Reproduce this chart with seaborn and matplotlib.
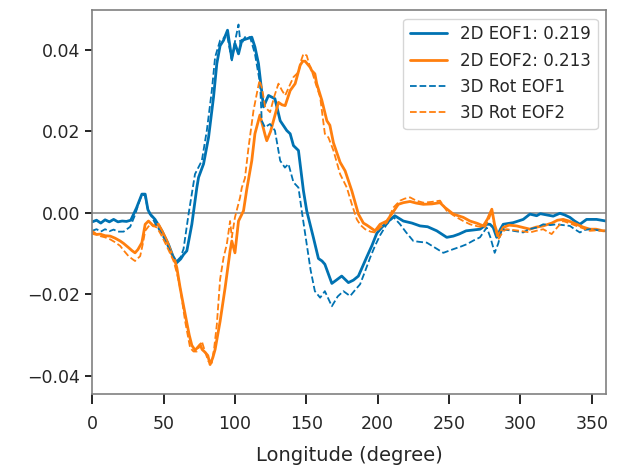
## Import packages
import pandas as pd
import matplotlib
matplotlib.use("Agg")
import matplotlib.pyplot as plt
import seaborn as sns


## Data
# 2D EOF1
lon_2d_eof1 = [0, 3, 6, 9, 12, 15, 18, 21, 24, 27, 31, 34.8, 37.1, 39, 40.6, 44, 48.8, 53.4,
               57, 59.3, 62, 64, 66.3, 69.8, 73.3, 74.5, 78, 81.5, 85, 87.3, 89.6, 92, 94.8,
               97.8, 100, 102.5, 104.8, 108.3, 111.8, 114, 116.5, 120, 123.5, 128, 131.7,
               136.3, 138.7, 141, 144.5, 148, 150.3, 155, 158.5, 161, 163, 167.9, 171, 174.8,
               179.5, 183, 186.5, 192.4, 196, 199.4, 203, 206.4, 212, 218, 224, 229.7, 235,
               241.4, 248.4, 253, 257, 262, 267, 271.7, 276.4, 278.7, 281, 283.4, 286, 288,
               295, 302, 306.7, 311.4, 314, 318.4, 323, 327.7, 331, 334.7, 338, 341.7, 346.4,
               353.4, 360]
val_2d_eof1 = [-0.0022, -0.0018, -0.0025, -0.0017, -0.0022, -0.0016, -0.0022, -0.0020,
               -0.0021, -0.0018, 0.0012, 0.0046, 0.0046, 0.0008, -0.0003, -0.0016, -0.0044,
               -0.0077, -0.0110, -0.0122, -0.0113, -0.0102, -0.0093, -0.0028, 0.0062, 0.0087,
               0.0120, 0.0185, 0.0284, 0.0366, 0.0410, 0.0423, 0.0448, 0.0378, 0.0415, 0.0390,
               0.0423, 0.0427, 0.0431, 0.0407, 0.0366, 0.0260, 0.0288, 0.0280, 0.0226, 0.0202,
               0.0194, 0.0165, 0.0153, 0.0054, 0.0005, -0.0061, -0.0112, -0.0118, -0.0126,
               -0.0173, -0.0165, -0.0155, -0.0171, -0.0165, -0.0155, -0.0108, -0.0080, -0.0050,
               -0.0035, -0.0024, -0.0007, -0.0020, -0.0025, -0.0032, -0.0034, -0.0044, -0.0060,
               -0.0057, -0.0052, -0.0044, -0.0042, -0.0040, -0.0028, -0.0028, -0.0036, -0.0060,
               -0.0040, -0.0028, -0.0024, -0.0016, -0.0003, -0.0007, -0.0002, -0.0005, -0.0008,
               -0.0001, -0.0005, -0.0011, -0.0020, -0.0028, -0.0016, -0.0016, -0.0020]

# 2D EOF2
lon_2d_eof2 = [0, 3, 5.6, 9, 12.6, 16, 19.6, 22, 25.4, 28, 30, 32, 34.8, 37.1, 39.4, 42.9,
               46.4, 49, 52.3, 55.8, 58, 59.3, 61.6, 63, 66.3, 68, 69.8, 72.1, 75.6, 77, 79.1,
               81, 82.6, 84.5, 86.1, 89.6, 93.1, 96.6, 97.8, 100, 102.5, 106, 108.3, 111.8, 114,
               117.5, 121.2, 122.3, 125, 127, 130.5, 133, 135.2, 138.7, 142.2, 145.7, 147.5,
               149.2, 152.7, 153.8, 156, 157.3, 160.9, 164.4, 166.5, 169, 173.7, 177.2, 181.9,
               186.5, 190, 192.4, 198.2, 201.7, 206.4, 210, 214.5, 218, 222.7, 227, 232, 238,
               243.7, 247.2, 253, 260, 264.7, 270, 274, 277, 280, 282, 284.5, 288, 292, 297.4,
               302, 306.7, 311, 316, 322, 326, 330, 334, 339.4, 344, 348.7, 353, 358, 360]
val_2d_eof2 = [-0.0050, -0.0053, -0.0052, -0.0056, -0.0057, -0.0062, -0.0069, -0.0075,
               -0.0085, -0.0093, -0.0098, -0.0090, -0.0073, -0.0028, -0.0020, -0.0032, -0.0028,
               -0.0045, -0.0069, -0.0102, -0.0118, -0.0135, -0.0184, -0.0210, -0.0270, -0.0300,
               -0.0325, -0.0337, -0.0323, -0.0335, -0.0342, -0.0350, -0.0372, -0.0355, -0.0335,
               -0.0266, -0.0184, -0.0093, -0.0069, -0.0098, -0.0020, 0.0005, 0.0058, 0.0128,
               0.0194, 0.0240, 0.0190, 0.0177, 0.0200, 0.0226, 0.0271, 0.0265, 0.0263, 0.0300,
               0.0317, 0.0362, 0.0372, 0.0372, 0.0357, 0.0349, 0.0341, 0.0317, 0.0276, 0.0226,
               0.0215, 0.0172, 0.0124, 0.0103, 0.0054, -0.0003, -0.0025, -0.0030, -0.0044,
               -0.0028, -0.0020, -0.0002, 0.0021, 0.0025, 0.0028, 0.0024, 0.0021, 0.0022,
               0.0025, 0.0013, -0.0003, -0.0011, -0.0020, -0.0026, -0.0032, -0.0015, 0.0009,
               -0.0030, -0.0057, -0.0036, -0.0030, -0.0032, -0.0036, -0.0040, -0.0035, -0.0032,
               -0.0025, -0.0018, -0.0016, -0.0020, -0.0028, -0.0035, -0.0040, -0.0040, -0.0044,
               -0.0044]

# 3D Rot EOF1
lon_3d_eof1 = [0, 3, 6, 9, 12, 15, 18, 22, 26.6, 30, 33.6, 35.5, 37, 39, 41, 44, 48.8, 53.4,
               57, 59.3, 62, 64, 67.5, 72, 76.8, 80.3, 83.8, 86.1, 89.6, 92, 94.3, 97.8, 100,
               102.5, 104, 107, 110.6, 114, 117.6, 118.8, 121, 124.6, 128, 131.7, 135, 137.5,
               141, 144.5, 146.8, 150.3, 153, 156, 159.7, 163, 167.9, 172, 176, 180.7, 184,
               187.7, 191, 194.7, 198, 201.7, 206, 211, 215.7, 220, 225, 229, 234.4, 240, 246,
               253, 258, 262.4, 267, 271.7, 276.4, 279, 282, 284.5, 287, 291, 295, 302, 306,
               311.4, 316, 321, 325.4, 330, 334.7, 338, 341.7, 345, 348.7, 353, 358, 360]
val_3d_eof1 = [-0.0044, -0.0040, -0.0046, -0.0040, -0.0045, -0.0041, -0.0046, -0.0046,
               -0.0034, -0.0005, 0.0035, 0.0045, 0.0042, 0.0008, -0.0005, -0.0025, -0.0052,
               -0.0085, -0.0108, -0.0118, -0.0108, -0.0088, -0.0003, 0.0095, 0.0128, 0.0202,
               0.0300, 0.0382, 0.0423, 0.0428, 0.0440, 0.0374, 0.0420, 0.0462, 0.0410, 0.0431,
               0.0431, 0.0390, 0.0317, 0.0226, 0.0210, 0.0218, 0.0202, 0.0128, 0.0111, 0.0120,
               0.0075, 0.0062, 0.0005, -0.0077, -0.0140, -0.0192, -0.0208, -0.0192, -0.0229,
               -0.0205, -0.0192, -0.0204, -0.0190, -0.0175, -0.0145, -0.0110, -0.0082, -0.0055,
               -0.0030, -0.0010, -0.0028, -0.0048, -0.0069, -0.0071, -0.0073, -0.0085, -0.0098,
               -0.0089, -0.0083, -0.0077, -0.0068, -0.0060, -0.0036, -0.0060, -0.0098, -0.0075,
               -0.0040, -0.0042, -0.0044, -0.0048, -0.0040, -0.0036, -0.0028, -0.0030, -0.0028,
               -0.0030, -0.0032, -0.0040, -0.0048, -0.0042, -0.0040, -0.0042, -0.0044, -0.0044]

# 3D Rot EOF2
lon_3d_eof2 = [0, 3, 5.6, 9, 12.6, 16, 19.6, 22, 25.4, 28, 30, 33.6, 35.5, 37.1, 40.6, 45.3,
               48, 51, 54, 57, 59.5, 61.6, 65.1, 68.6, 71, 73.3, 76.8, 79, 81.4, 83.8, 85.5,
               87.3, 89.6, 92, 94.3, 96.6, 97.8, 100, 103.6, 104.8, 107, 109.5, 113, 115.3,
               117.2, 119, 121.2, 124.6, 127.5, 130.5, 133, 135.2, 138, 141, 144.5, 146.5, 148,
               150.3, 152, 153.8, 156.5, 159.7, 163, 165.5, 169, 173.7, 178.4, 182, 185.4, 188,
               191.2, 195, 198.2, 202, 206.4, 211, 215.7, 219, 222.7, 227, 232, 238, 243.7,
               248.4, 255.4, 260, 264.7, 270, 275, 278, 280, 282, 284.5, 288, 290.4, 295, 299.7,
               306.7, 311, 316, 319, 321.9, 326, 330, 334, 339.4, 344, 348.7, 353, 358, 360]
val_3d_eof2 = [-0.0044, -0.0052, -0.0057, -0.0060, -0.0065, -0.0072, -0.0081, -0.0092,
               -0.0106, -0.0113, -0.0118, -0.0106, -0.0075, -0.0044, -0.0028, -0.0036, -0.0052,
               -0.0073, -0.0095, -0.0118, -0.0150, -0.0184, -0.0266, -0.0331, -0.0340, -0.0340,
               -0.0315, -0.0340, -0.0364, -0.0368, -0.0330, -0.0274, -0.0163, -0.0110, -0.0077,
               -0.0020, -0.0060, -0.0011, 0.0038, 0.0062, 0.0085, 0.0160, 0.0251, 0.0292,
               0.0325, 0.0305, 0.0259, 0.0247, 0.0285, 0.0317, 0.0300, 0.0288, 0.0310, 0.0333,
               0.0345, 0.0375, 0.0390, 0.0386, 0.0365, 0.0349, 0.0318, 0.0284, 0.0194, 0.0185,
               0.0153, 0.0095, 0.0062, 0.0020, -0.0016, -0.0030, -0.0040, -0.0046, -0.0048,
               -0.0035, -0.0024, 0.0013, 0.0030, 0.0035, 0.0038, 0.0030, 0.0025, 0.0027, 0.0030,
               0.0005, -0.0011, -0.0020, -0.0028, -0.0033, -0.0036, -0.0015, 0.0005, -0.0035,
               -0.0065, -0.0045, -0.0040, -0.0042, -0.0044, -0.0048, -0.0044, -0.0040, -0.0046,
               -0.0052, -0.0035, -0.0020, -0.0025, -0.0032, -0.0038, -0.0044, -0.0043, -0.0044,
               -0.0044]

labels = ["2D EOF1: 0.219", "2D EOF2: 0.213", "3D Rot EOF1", "3D Rot EOF2"]


## Define parameters for figure
blue = '#0072b2'
orange = '#ff7f0e'

sns.set_theme(style='ticks')
plt.rcParams['font.family'] = ['DejaVu Sans']

fig, ax = plt.subplots(figsize=(6.19, 4.65), dpi=100)
fig.subplots_adjust(left=0.149, right=0.979, top=0.978, bottom=0.152)

# Zero line
ax.axhline(0, color='#808080', lw=1.1, zorder=1)

series = [(lon_2d_eof1, val_2d_eof1, blue, '-', 2.0),
          (lon_2d_eof2, val_2d_eof2, orange, '-', 2.0),
          (lon_3d_eof1, val_3d_eof1, blue, '--', 1.3),
          (lon_3d_eof2, val_3d_eof2, orange, '--', 1.3)]

for (lon, val, c, ls, lw), lab in zip(series, labels):
    df = pd.DataFrame({'lon': lon, 'val': val})
    sns.lineplot(data=df, x='lon', y='val', ax=ax, color=c, linestyle=ls, lw=lw,
                 label=lab, estimator=None, sort=False, zorder=2)

ax.set_xlim(0, 360)
ax.set_ylim(-0.0445, 0.0497)
ax.set_xticks([0, 50, 100, 150, 200, 250, 300, 350])
ax.set_yticks([-0.04, -0.02, 0.0, 0.02, 0.04])
ax.set_yticklabels(['\u22120.04', '\u22120.02', '0.00', '0.02', '0.04'])
ax.set_xlabel('Longitude (degree)', fontsize=14, labelpad=9)
ax.set_ylabel('')
ax.tick_params(labelsize=12.5, width=1.2, color='black')
ax.tick_params(axis='x', length=7, pad=8)
ax.tick_params(axis='y', length=5, pad=3.5)

for sp in ax.spines.values():
    sp.set_color('#808080')
    sp.set_linewidth(1.2)

leg = ax.legend(loc='upper right', fontsize=12, frameon=True, fancybox=True,
                handlelength=2.2)
leg.get_frame().set_edgecolor('#cccccc')

plt.savefig('out.png', dpi=100)
